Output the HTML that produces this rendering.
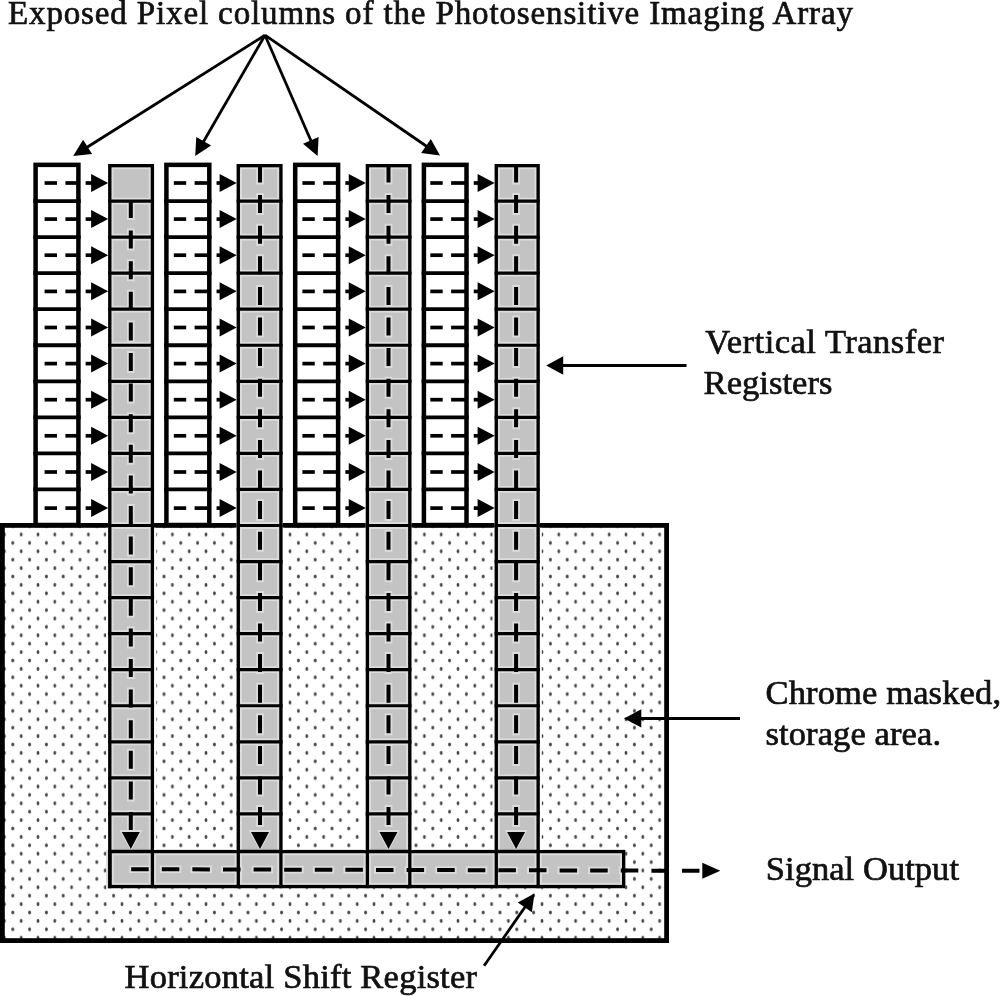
<!DOCTYPE html>
<html><head><meta charset="utf-8"><style>
html,body{margin:0;padding:0;background:#fff;width:1000px;height:996px;overflow:hidden}
svg{display:block;will-change:transform}
text{font-family:"Liberation Serif",serif;fill:#111;stroke:#111;stroke-width:0.7px}
</style></head><body><div id="wrap">
<svg width="1000" height="996" viewBox="0 0 1000 996">
<defs><pattern id="dots" patternUnits="userSpaceOnUse" x="21.2" y="534.5" width="16.8" height="16.8"><ellipse cx="0" cy="0" rx="1.4" ry="1.9" fill="#444"/><ellipse cx="16.8" cy="0" rx="1.4" ry="1.9" fill="#444"/><ellipse cx="0" cy="16.8" rx="1.4" ry="1.9" fill="#444"/><ellipse cx="16.8" cy="16.8" rx="1.4" ry="1.9" fill="#444"/><ellipse cx="8.4" cy="8.4" rx="1.4" ry="1.9" fill="#444"/></pattern></defs>
<rect x="2.4" y="525.4" width="664.2" height="415.2" fill="url(#dots)" stroke="#000" stroke-width="4.8"/>
<rect x="108.3" y="849.9" width="517.0" height="38.30" fill="#c3c3c3"/>
<rect x="112.6" y="854.19" width="508.4" height="29.70" fill="none" stroke="#dcdcdc" stroke-width="2"/>
<line x1="109.80" y1="849.9" x2="109.80" y2="888.2" stroke="#dcdcdc" stroke-width="7.3"/>
<line x1="152.4" y1="849.9" x2="152.4" y2="888.2" stroke="#dcdcdc" stroke-width="7.3"/>
<line x1="238.3" y1="849.9" x2="238.3" y2="888.2" stroke="#dcdcdc" stroke-width="7.3"/>
<line x1="280.90" y1="849.9" x2="280.90" y2="888.2" stroke="#dcdcdc" stroke-width="7.3"/>
<line x1="367.4" y1="849.9" x2="367.4" y2="888.2" stroke="#dcdcdc" stroke-width="7.3"/>
<line x1="409.8" y1="849.9" x2="409.8" y2="888.2" stroke="#dcdcdc" stroke-width="7.3"/>
<line x1="496.29" y1="849.9" x2="496.29" y2="888.2" stroke="#dcdcdc" stroke-width="7.3"/>
<line x1="538.15" y1="849.9" x2="538.15" y2="888.2" stroke="#dcdcdc" stroke-width="7.3"/>
<line x1="129.2" y1="869.2" x2="622" y2="870.5" stroke="#dcdcdc" stroke-width="7.6" stroke-dasharray="21.5 9.1"/>
<rect x="109.95" y="851.55" width="513.7" height="35.00" fill="none" stroke="#000" stroke-width="3.3"/>
<rect x="35.6" y="164.85" width="42.80" height="360.15" fill="#fff" stroke="#000" stroke-width="4.5"/>
<line x1="33.35" y1="201.05" x2="80.65" y2="201.05" stroke="#000" stroke-width="3.8"/>
<line x1="33.35" y1="237.10" x2="80.65" y2="237.10" stroke="#000" stroke-width="3.8"/>
<line x1="33.35" y1="273.15" x2="80.65" y2="273.15" stroke="#000" stroke-width="3.8"/>
<line x1="33.35" y1="309.20" x2="80.65" y2="309.20" stroke="#000" stroke-width="3.8"/>
<line x1="33.35" y1="345.25" x2="80.65" y2="345.25" stroke="#000" stroke-width="3.8"/>
<line x1="33.35" y1="381.30" x2="80.65" y2="381.30" stroke="#000" stroke-width="3.8"/>
<line x1="33.35" y1="417.35" x2="80.65" y2="417.35" stroke="#000" stroke-width="3.8"/>
<line x1="33.35" y1="453.40" x2="80.65" y2="453.40" stroke="#000" stroke-width="3.8"/>
<line x1="33.35" y1="489.45" x2="80.65" y2="489.45" stroke="#000" stroke-width="3.8"/>
<rect x="106.15" y="527.8" width="49.90" height="322.09" fill="#fff"/>
<rect x="108.15" y="164.0" width="45.90" height="687.4" fill="#c3c3c3"/>
<rect x="112.45" y="168.3" width="37.30" height="683.1" fill="none" stroke="#dcdcdc" stroke-width="2"/>
<line x1="108.15" y1="201.05" x2="154.05" y2="201.05" stroke="#dcdcdc" stroke-width="6.8"/>
<line x1="108.15" y1="237.10" x2="154.05" y2="237.10" stroke="#dcdcdc" stroke-width="6.8"/>
<line x1="108.15" y1="273.15" x2="154.05" y2="273.15" stroke="#dcdcdc" stroke-width="6.8"/>
<line x1="108.15" y1="309.20" x2="154.05" y2="309.20" stroke="#dcdcdc" stroke-width="6.8"/>
<line x1="108.15" y1="345.25" x2="154.05" y2="345.25" stroke="#dcdcdc" stroke-width="6.8"/>
<line x1="108.15" y1="381.30" x2="154.05" y2="381.30" stroke="#dcdcdc" stroke-width="6.8"/>
<line x1="108.15" y1="417.35" x2="154.05" y2="417.35" stroke="#dcdcdc" stroke-width="6.8"/>
<line x1="108.15" y1="453.40" x2="154.05" y2="453.40" stroke="#dcdcdc" stroke-width="6.8"/>
<line x1="108.15" y1="489.45" x2="154.05" y2="489.45" stroke="#dcdcdc" stroke-width="6.8"/>
<line x1="108.15" y1="525.50" x2="154.05" y2="525.50" stroke="#dcdcdc" stroke-width="6.8"/>
<line x1="108.15" y1="561.55" x2="154.05" y2="561.55" stroke="#dcdcdc" stroke-width="6.8"/>
<line x1="108.15" y1="597.60" x2="154.05" y2="597.60" stroke="#dcdcdc" stroke-width="6.8"/>
<line x1="108.15" y1="633.65" x2="154.05" y2="633.65" stroke="#dcdcdc" stroke-width="6.8"/>
<line x1="108.15" y1="669.70" x2="154.05" y2="669.70" stroke="#dcdcdc" stroke-width="6.8"/>
<line x1="108.15" y1="705.75" x2="154.05" y2="705.75" stroke="#dcdcdc" stroke-width="6.8"/>
<line x1="108.15" y1="741.80" x2="154.05" y2="741.80" stroke="#dcdcdc" stroke-width="6.8"/>
<line x1="108.15" y1="777.85" x2="154.05" y2="777.85" stroke="#dcdcdc" stroke-width="6.8"/>
<line x1="108.15" y1="813.90" x2="154.05" y2="813.90" stroke="#dcdcdc" stroke-width="6.8"/>
<line x1="130.8" y1="198.0" x2="130.8" y2="836" stroke="#dcdcdc" stroke-width="7.6" stroke-dasharray="22 8.6" stroke-dashoffset="0.00"/>
<polygon points="119.3,830 142.3,830 130.8,851" fill="#dcdcdc"/>
<rect x="109.80" y="165.65" width="42.60" height="685.75" fill="none" stroke="#000" stroke-width="3.3"/>
<line x1="108.15" y1="201.05" x2="154.05" y2="201.05" stroke="#000" stroke-width="3.2"/>
<line x1="108.15" y1="237.10" x2="154.05" y2="237.10" stroke="#000" stroke-width="3.2"/>
<line x1="108.15" y1="273.15" x2="154.05" y2="273.15" stroke="#000" stroke-width="3.2"/>
<line x1="108.15" y1="309.20" x2="154.05" y2="309.20" stroke="#000" stroke-width="3.2"/>
<line x1="108.15" y1="345.25" x2="154.05" y2="345.25" stroke="#000" stroke-width="3.2"/>
<line x1="108.15" y1="381.30" x2="154.05" y2="381.30" stroke="#000" stroke-width="3.2"/>
<line x1="108.15" y1="417.35" x2="154.05" y2="417.35" stroke="#000" stroke-width="3.2"/>
<line x1="108.15" y1="453.40" x2="154.05" y2="453.40" stroke="#000" stroke-width="3.2"/>
<line x1="108.15" y1="489.45" x2="154.05" y2="489.45" stroke="#000" stroke-width="3.2"/>
<line x1="108.15" y1="525.50" x2="154.05" y2="525.50" stroke="#000" stroke-width="3.2"/>
<line x1="108.15" y1="561.55" x2="154.05" y2="561.55" stroke="#000" stroke-width="3.2"/>
<line x1="108.15" y1="597.60" x2="154.05" y2="597.60" stroke="#000" stroke-width="3.2"/>
<line x1="108.15" y1="633.65" x2="154.05" y2="633.65" stroke="#000" stroke-width="3.2"/>
<line x1="108.15" y1="669.70" x2="154.05" y2="669.70" stroke="#000" stroke-width="3.2"/>
<line x1="108.15" y1="705.75" x2="154.05" y2="705.75" stroke="#000" stroke-width="3.2"/>
<line x1="108.15" y1="741.80" x2="154.05" y2="741.80" stroke="#000" stroke-width="3.2"/>
<line x1="108.15" y1="777.85" x2="154.05" y2="777.85" stroke="#000" stroke-width="3.2"/>
<line x1="108.15" y1="813.90" x2="154.05" y2="813.90" stroke="#000" stroke-width="3.2"/>
<line x1="109.80" y1="849.9" x2="109.80" y2="888.2" stroke="#000" stroke-width="3.3"/>
<line x1="152.4" y1="849.9" x2="152.4" y2="888.2" stroke="#000" stroke-width="3.3"/>
<line x1="44.6" y1="183.0" x2="57.0" y2="183.0" stroke="#000" stroke-width="3.7"/>
<line x1="65.4" y1="183.0" x2="78.65" y2="183.0" stroke="#000" stroke-width="3.7"/>
<line x1="85.65" y1="183.0" x2="100.15" y2="183.0" stroke="#000" stroke-width="3.7"/>
<polygon points="91.15,174.0 108.15,183.0 91.15,192.0" fill="#000"/>
<line x1="44.6" y1="219.1" x2="57.0" y2="219.1" stroke="#000" stroke-width="3.7"/>
<line x1="65.4" y1="219.1" x2="78.65" y2="219.1" stroke="#000" stroke-width="3.7"/>
<line x1="85.65" y1="219.1" x2="100.15" y2="219.1" stroke="#000" stroke-width="3.7"/>
<polygon points="91.15,210.12 108.15,219.12 91.15,228.12" fill="#000"/>
<line x1="44.6" y1="255.2" x2="57.0" y2="255.2" stroke="#000" stroke-width="3.7"/>
<line x1="65.4" y1="255.2" x2="78.65" y2="255.2" stroke="#000" stroke-width="3.7"/>
<line x1="85.65" y1="255.2" x2="100.15" y2="255.2" stroke="#000" stroke-width="3.7"/>
<polygon points="91.15,246.24 108.15,255.24 91.15,264.24" fill="#000"/>
<line x1="44.6" y1="291.4" x2="57.0" y2="291.4" stroke="#000" stroke-width="3.7"/>
<line x1="65.4" y1="291.4" x2="78.65" y2="291.4" stroke="#000" stroke-width="3.7"/>
<line x1="85.65" y1="291.4" x2="100.15" y2="291.4" stroke="#000" stroke-width="3.7"/>
<polygon points="91.15,282.36 108.15,291.36 91.15,300.36" fill="#000"/>
<line x1="44.6" y1="327.5" x2="57.0" y2="327.5" stroke="#000" stroke-width="3.7"/>
<line x1="65.4" y1="327.5" x2="78.65" y2="327.5" stroke="#000" stroke-width="3.7"/>
<line x1="85.65" y1="327.5" x2="100.15" y2="327.5" stroke="#000" stroke-width="3.7"/>
<polygon points="91.15,318.48 108.15,327.48 91.15,336.48" fill="#000"/>
<line x1="44.6" y1="363.6" x2="57.0" y2="363.6" stroke="#000" stroke-width="3.7"/>
<line x1="65.4" y1="363.6" x2="78.65" y2="363.6" stroke="#000" stroke-width="3.7"/>
<line x1="85.65" y1="363.6" x2="100.15" y2="363.6" stroke="#000" stroke-width="3.7"/>
<polygon points="91.15,354.6 108.15,363.6 91.15,372.6" fill="#000"/>
<line x1="44.6" y1="399.7" x2="57.0" y2="399.7" stroke="#000" stroke-width="3.7"/>
<line x1="65.4" y1="399.7" x2="78.65" y2="399.7" stroke="#000" stroke-width="3.7"/>
<line x1="85.65" y1="399.7" x2="100.15" y2="399.7" stroke="#000" stroke-width="3.7"/>
<polygon points="91.15,390.71 108.15,399.71 91.15,408.71" fill="#000"/>
<line x1="44.6" y1="435.8" x2="57.0" y2="435.8" stroke="#000" stroke-width="3.7"/>
<line x1="65.4" y1="435.8" x2="78.65" y2="435.8" stroke="#000" stroke-width="3.7"/>
<line x1="85.65" y1="435.8" x2="100.15" y2="435.8" stroke="#000" stroke-width="3.7"/>
<polygon points="91.15,426.84 108.15,435.84 91.15,444.84" fill="#000"/>
<line x1="44.6" y1="472.0" x2="57.0" y2="472.0" stroke="#000" stroke-width="3.7"/>
<line x1="65.4" y1="472.0" x2="78.65" y2="472.0" stroke="#000" stroke-width="3.7"/>
<line x1="85.65" y1="472.0" x2="100.15" y2="472.0" stroke="#000" stroke-width="3.7"/>
<polygon points="91.15,462.96 108.15,471.96 91.15,480.96" fill="#000"/>
<line x1="44.6" y1="508.1" x2="57.0" y2="508.1" stroke="#000" stroke-width="3.7"/>
<line x1="65.4" y1="508.1" x2="78.65" y2="508.1" stroke="#000" stroke-width="3.7"/>
<line x1="85.65" y1="508.1" x2="100.15" y2="508.1" stroke="#000" stroke-width="3.7"/>
<polygon points="91.15,499.08 108.15,508.08 91.15,517.07" fill="#000"/>
<line x1="130.8" y1="200.0" x2="130.8" y2="834" stroke="#000" stroke-width="4" stroke-dasharray="18 12.6"/>
<polygon points="121.8,832 139.8,832 130.8,849" fill="#000"/>
<rect x="166.4" y="164.85" width="42.90" height="360.15" fill="#fff" stroke="#000" stroke-width="4.5"/>
<line x1="164.15" y1="201.05" x2="211.55" y2="201.05" stroke="#000" stroke-width="3.8"/>
<line x1="164.15" y1="237.10" x2="211.55" y2="237.10" stroke="#000" stroke-width="3.8"/>
<line x1="164.15" y1="273.15" x2="211.55" y2="273.15" stroke="#000" stroke-width="3.8"/>
<line x1="164.15" y1="309.20" x2="211.55" y2="309.20" stroke="#000" stroke-width="3.8"/>
<line x1="164.15" y1="345.25" x2="211.55" y2="345.25" stroke="#000" stroke-width="3.8"/>
<line x1="164.15" y1="381.30" x2="211.55" y2="381.30" stroke="#000" stroke-width="3.8"/>
<line x1="164.15" y1="417.35" x2="211.55" y2="417.35" stroke="#000" stroke-width="3.8"/>
<line x1="164.15" y1="453.40" x2="211.55" y2="453.40" stroke="#000" stroke-width="3.8"/>
<line x1="164.15" y1="489.45" x2="211.55" y2="489.45" stroke="#000" stroke-width="3.8"/>
<rect x="234.65" y="527.8" width="49.90" height="322.09" fill="#fff"/>
<rect x="236.65" y="164.0" width="45.90" height="687.4" fill="#c3c3c3"/>
<rect x="240.95" y="168.3" width="37.30" height="683.1" fill="none" stroke="#dcdcdc" stroke-width="2"/>
<line x1="236.65" y1="201.05" x2="282.55" y2="201.05" stroke="#dcdcdc" stroke-width="6.8"/>
<line x1="236.65" y1="237.10" x2="282.55" y2="237.10" stroke="#dcdcdc" stroke-width="6.8"/>
<line x1="236.65" y1="273.15" x2="282.55" y2="273.15" stroke="#dcdcdc" stroke-width="6.8"/>
<line x1="236.65" y1="309.20" x2="282.55" y2="309.20" stroke="#dcdcdc" stroke-width="6.8"/>
<line x1="236.65" y1="345.25" x2="282.55" y2="345.25" stroke="#dcdcdc" stroke-width="6.8"/>
<line x1="236.65" y1="381.30" x2="282.55" y2="381.30" stroke="#dcdcdc" stroke-width="6.8"/>
<line x1="236.65" y1="417.35" x2="282.55" y2="417.35" stroke="#dcdcdc" stroke-width="6.8"/>
<line x1="236.65" y1="453.40" x2="282.55" y2="453.40" stroke="#dcdcdc" stroke-width="6.8"/>
<line x1="236.65" y1="489.45" x2="282.55" y2="489.45" stroke="#dcdcdc" stroke-width="6.8"/>
<line x1="236.65" y1="525.50" x2="282.55" y2="525.50" stroke="#dcdcdc" stroke-width="6.8"/>
<line x1="236.65" y1="561.55" x2="282.55" y2="561.55" stroke="#dcdcdc" stroke-width="6.8"/>
<line x1="236.65" y1="597.60" x2="282.55" y2="597.60" stroke="#dcdcdc" stroke-width="6.8"/>
<line x1="236.65" y1="633.65" x2="282.55" y2="633.65" stroke="#dcdcdc" stroke-width="6.8"/>
<line x1="236.65" y1="669.70" x2="282.55" y2="669.70" stroke="#dcdcdc" stroke-width="6.8"/>
<line x1="236.65" y1="705.75" x2="282.55" y2="705.75" stroke="#dcdcdc" stroke-width="6.8"/>
<line x1="236.65" y1="741.80" x2="282.55" y2="741.80" stroke="#dcdcdc" stroke-width="6.8"/>
<line x1="236.65" y1="777.85" x2="282.55" y2="777.85" stroke="#dcdcdc" stroke-width="6.8"/>
<line x1="236.65" y1="813.90" x2="282.55" y2="813.90" stroke="#dcdcdc" stroke-width="6.8"/>
<line x1="260.0" y1="167.3" x2="260.0" y2="836" stroke="#dcdcdc" stroke-width="7.6" stroke-dasharray="22 8.6" stroke-dashoffset="4.80"/>
<polygon points="248.5,830 271.5,830 260.0,851" fill="#dcdcdc"/>
<rect x="238.3" y="165.65" width="42.60" height="685.75" fill="none" stroke="#000" stroke-width="3.3"/>
<line x1="236.65" y1="201.05" x2="282.55" y2="201.05" stroke="#000" stroke-width="3.2"/>
<line x1="236.65" y1="237.10" x2="282.55" y2="237.10" stroke="#000" stroke-width="3.2"/>
<line x1="236.65" y1="273.15" x2="282.55" y2="273.15" stroke="#000" stroke-width="3.2"/>
<line x1="236.65" y1="309.20" x2="282.55" y2="309.20" stroke="#000" stroke-width="3.2"/>
<line x1="236.65" y1="345.25" x2="282.55" y2="345.25" stroke="#000" stroke-width="3.2"/>
<line x1="236.65" y1="381.30" x2="282.55" y2="381.30" stroke="#000" stroke-width="3.2"/>
<line x1="236.65" y1="417.35" x2="282.55" y2="417.35" stroke="#000" stroke-width="3.2"/>
<line x1="236.65" y1="453.40" x2="282.55" y2="453.40" stroke="#000" stroke-width="3.2"/>
<line x1="236.65" y1="489.45" x2="282.55" y2="489.45" stroke="#000" stroke-width="3.2"/>
<line x1="236.65" y1="525.50" x2="282.55" y2="525.50" stroke="#000" stroke-width="3.2"/>
<line x1="236.65" y1="561.55" x2="282.55" y2="561.55" stroke="#000" stroke-width="3.2"/>
<line x1="236.65" y1="597.60" x2="282.55" y2="597.60" stroke="#000" stroke-width="3.2"/>
<line x1="236.65" y1="633.65" x2="282.55" y2="633.65" stroke="#000" stroke-width="3.2"/>
<line x1="236.65" y1="669.70" x2="282.55" y2="669.70" stroke="#000" stroke-width="3.2"/>
<line x1="236.65" y1="705.75" x2="282.55" y2="705.75" stroke="#000" stroke-width="3.2"/>
<line x1="236.65" y1="741.80" x2="282.55" y2="741.80" stroke="#000" stroke-width="3.2"/>
<line x1="236.65" y1="777.85" x2="282.55" y2="777.85" stroke="#000" stroke-width="3.2"/>
<line x1="236.65" y1="813.90" x2="282.55" y2="813.90" stroke="#000" stroke-width="3.2"/>
<line x1="238.3" y1="849.9" x2="238.3" y2="888.2" stroke="#000" stroke-width="3.3"/>
<line x1="280.90" y1="849.9" x2="280.90" y2="888.2" stroke="#000" stroke-width="3.3"/>
<line x1="173.8" y1="183.0" x2="186.20" y2="183.0" stroke="#000" stroke-width="3.7"/>
<line x1="194.60" y1="183.0" x2="209.55" y2="183.0" stroke="#000" stroke-width="3.7"/>
<line x1="216.55" y1="183.0" x2="228.65" y2="183.0" stroke="#000" stroke-width="3.7"/>
<polygon points="219.65,174.0 236.65,183.0 219.65,192.0" fill="#000"/>
<line x1="173.8" y1="219.1" x2="186.20" y2="219.1" stroke="#000" stroke-width="3.7"/>
<line x1="194.60" y1="219.1" x2="209.55" y2="219.1" stroke="#000" stroke-width="3.7"/>
<line x1="216.55" y1="219.1" x2="228.65" y2="219.1" stroke="#000" stroke-width="3.7"/>
<polygon points="219.65,210.12 236.65,219.12 219.65,228.12" fill="#000"/>
<line x1="173.8" y1="255.2" x2="186.20" y2="255.2" stroke="#000" stroke-width="3.7"/>
<line x1="194.60" y1="255.2" x2="209.55" y2="255.2" stroke="#000" stroke-width="3.7"/>
<line x1="216.55" y1="255.2" x2="228.65" y2="255.2" stroke="#000" stroke-width="3.7"/>
<polygon points="219.65,246.24 236.65,255.24 219.65,264.24" fill="#000"/>
<line x1="173.8" y1="291.4" x2="186.20" y2="291.4" stroke="#000" stroke-width="3.7"/>
<line x1="194.60" y1="291.4" x2="209.55" y2="291.4" stroke="#000" stroke-width="3.7"/>
<line x1="216.55" y1="291.4" x2="228.65" y2="291.4" stroke="#000" stroke-width="3.7"/>
<polygon points="219.65,282.36 236.65,291.36 219.65,300.36" fill="#000"/>
<line x1="173.8" y1="327.5" x2="186.20" y2="327.5" stroke="#000" stroke-width="3.7"/>
<line x1="194.60" y1="327.5" x2="209.55" y2="327.5" stroke="#000" stroke-width="3.7"/>
<line x1="216.55" y1="327.5" x2="228.65" y2="327.5" stroke="#000" stroke-width="3.7"/>
<polygon points="219.65,318.48 236.65,327.48 219.65,336.48" fill="#000"/>
<line x1="173.8" y1="363.6" x2="186.20" y2="363.6" stroke="#000" stroke-width="3.7"/>
<line x1="194.60" y1="363.6" x2="209.55" y2="363.6" stroke="#000" stroke-width="3.7"/>
<line x1="216.55" y1="363.6" x2="228.65" y2="363.6" stroke="#000" stroke-width="3.7"/>
<polygon points="219.65,354.6 236.65,363.6 219.65,372.6" fill="#000"/>
<line x1="173.8" y1="399.7" x2="186.20" y2="399.7" stroke="#000" stroke-width="3.7"/>
<line x1="194.60" y1="399.7" x2="209.55" y2="399.7" stroke="#000" stroke-width="3.7"/>
<line x1="216.55" y1="399.7" x2="228.65" y2="399.7" stroke="#000" stroke-width="3.7"/>
<polygon points="219.65,390.71 236.65,399.71 219.65,408.71" fill="#000"/>
<line x1="173.8" y1="435.8" x2="186.20" y2="435.8" stroke="#000" stroke-width="3.7"/>
<line x1="194.60" y1="435.8" x2="209.55" y2="435.8" stroke="#000" stroke-width="3.7"/>
<line x1="216.55" y1="435.8" x2="228.65" y2="435.8" stroke="#000" stroke-width="3.7"/>
<polygon points="219.65,426.84 236.65,435.84 219.65,444.84" fill="#000"/>
<line x1="173.8" y1="472.0" x2="186.20" y2="472.0" stroke="#000" stroke-width="3.7"/>
<line x1="194.60" y1="472.0" x2="209.55" y2="472.0" stroke="#000" stroke-width="3.7"/>
<line x1="216.55" y1="472.0" x2="228.65" y2="472.0" stroke="#000" stroke-width="3.7"/>
<polygon points="219.65,462.96 236.65,471.96 219.65,480.96" fill="#000"/>
<line x1="173.8" y1="508.1" x2="186.20" y2="508.1" stroke="#000" stroke-width="3.7"/>
<line x1="194.60" y1="508.1" x2="209.55" y2="508.1" stroke="#000" stroke-width="3.7"/>
<line x1="216.55" y1="508.1" x2="228.65" y2="508.1" stroke="#000" stroke-width="3.7"/>
<polygon points="219.65,499.08 236.65,508.08 219.65,517.07" fill="#000"/>
<line x1="260.0" y1="164.5" x2="260.0" y2="834" stroke="#000" stroke-width="4" stroke-dasharray="18 12.6"/>
<polygon points="251.0,832 269.0,832 260.0,849" fill="#000"/>
<rect x="295.2" y="164.85" width="42.90" height="360.15" fill="#fff" stroke="#000" stroke-width="4.5"/>
<line x1="292.95" y1="201.05" x2="340.35" y2="201.05" stroke="#000" stroke-width="3.8"/>
<line x1="292.95" y1="237.10" x2="340.35" y2="237.10" stroke="#000" stroke-width="3.8"/>
<line x1="292.95" y1="273.15" x2="340.35" y2="273.15" stroke="#000" stroke-width="3.8"/>
<line x1="292.95" y1="309.20" x2="340.35" y2="309.20" stroke="#000" stroke-width="3.8"/>
<line x1="292.95" y1="345.25" x2="340.35" y2="345.25" stroke="#000" stroke-width="3.8"/>
<line x1="292.95" y1="381.30" x2="340.35" y2="381.30" stroke="#000" stroke-width="3.8"/>
<line x1="292.95" y1="417.35" x2="340.35" y2="417.35" stroke="#000" stroke-width="3.8"/>
<line x1="292.95" y1="453.40" x2="340.35" y2="453.40" stroke="#000" stroke-width="3.8"/>
<line x1="292.95" y1="489.45" x2="340.35" y2="489.45" stroke="#000" stroke-width="3.8"/>
<rect x="363.75" y="527.8" width="49.69" height="322.09" fill="#fff"/>
<rect x="365.75" y="164.0" width="45.69" height="687.4" fill="#c3c3c3"/>
<rect x="370.05" y="168.3" width="37.09" height="683.1" fill="none" stroke="#dcdcdc" stroke-width="2"/>
<line x1="365.75" y1="201.05" x2="411.45" y2="201.05" stroke="#dcdcdc" stroke-width="6.8"/>
<line x1="365.75" y1="237.10" x2="411.45" y2="237.10" stroke="#dcdcdc" stroke-width="6.8"/>
<line x1="365.75" y1="273.15" x2="411.45" y2="273.15" stroke="#dcdcdc" stroke-width="6.8"/>
<line x1="365.75" y1="309.20" x2="411.45" y2="309.20" stroke="#dcdcdc" stroke-width="6.8"/>
<line x1="365.75" y1="345.25" x2="411.45" y2="345.25" stroke="#dcdcdc" stroke-width="6.8"/>
<line x1="365.75" y1="381.30" x2="411.45" y2="381.30" stroke="#dcdcdc" stroke-width="6.8"/>
<line x1="365.75" y1="417.35" x2="411.45" y2="417.35" stroke="#dcdcdc" stroke-width="6.8"/>
<line x1="365.75" y1="453.40" x2="411.45" y2="453.40" stroke="#dcdcdc" stroke-width="6.8"/>
<line x1="365.75" y1="489.45" x2="411.45" y2="489.45" stroke="#dcdcdc" stroke-width="6.8"/>
<line x1="365.75" y1="525.50" x2="411.45" y2="525.50" stroke="#dcdcdc" stroke-width="6.8"/>
<line x1="365.75" y1="561.55" x2="411.45" y2="561.55" stroke="#dcdcdc" stroke-width="6.8"/>
<line x1="365.75" y1="597.60" x2="411.45" y2="597.60" stroke="#dcdcdc" stroke-width="6.8"/>
<line x1="365.75" y1="633.65" x2="411.45" y2="633.65" stroke="#dcdcdc" stroke-width="6.8"/>
<line x1="365.75" y1="669.70" x2="411.45" y2="669.70" stroke="#dcdcdc" stroke-width="6.8"/>
<line x1="365.75" y1="705.75" x2="411.45" y2="705.75" stroke="#dcdcdc" stroke-width="6.8"/>
<line x1="365.75" y1="741.80" x2="411.45" y2="741.80" stroke="#dcdcdc" stroke-width="6.8"/>
<line x1="365.75" y1="777.85" x2="411.45" y2="777.85" stroke="#dcdcdc" stroke-width="6.8"/>
<line x1="365.75" y1="813.90" x2="411.45" y2="813.90" stroke="#dcdcdc" stroke-width="6.8"/>
<line x1="388.5" y1="167.3" x2="388.5" y2="836" stroke="#dcdcdc" stroke-width="7.6" stroke-dasharray="22 8.6" stroke-dashoffset="4.80"/>
<polygon points="377.0,830 400.0,830 388.5,851" fill="#dcdcdc"/>
<rect x="367.4" y="165.65" width="42.39" height="685.75" fill="none" stroke="#000" stroke-width="3.3"/>
<line x1="365.75" y1="201.05" x2="411.45" y2="201.05" stroke="#000" stroke-width="3.2"/>
<line x1="365.75" y1="237.10" x2="411.45" y2="237.10" stroke="#000" stroke-width="3.2"/>
<line x1="365.75" y1="273.15" x2="411.45" y2="273.15" stroke="#000" stroke-width="3.2"/>
<line x1="365.75" y1="309.20" x2="411.45" y2="309.20" stroke="#000" stroke-width="3.2"/>
<line x1="365.75" y1="345.25" x2="411.45" y2="345.25" stroke="#000" stroke-width="3.2"/>
<line x1="365.75" y1="381.30" x2="411.45" y2="381.30" stroke="#000" stroke-width="3.2"/>
<line x1="365.75" y1="417.35" x2="411.45" y2="417.35" stroke="#000" stroke-width="3.2"/>
<line x1="365.75" y1="453.40" x2="411.45" y2="453.40" stroke="#000" stroke-width="3.2"/>
<line x1="365.75" y1="489.45" x2="411.45" y2="489.45" stroke="#000" stroke-width="3.2"/>
<line x1="365.75" y1="525.50" x2="411.45" y2="525.50" stroke="#000" stroke-width="3.2"/>
<line x1="365.75" y1="561.55" x2="411.45" y2="561.55" stroke="#000" stroke-width="3.2"/>
<line x1="365.75" y1="597.60" x2="411.45" y2="597.60" stroke="#000" stroke-width="3.2"/>
<line x1="365.75" y1="633.65" x2="411.45" y2="633.65" stroke="#000" stroke-width="3.2"/>
<line x1="365.75" y1="669.70" x2="411.45" y2="669.70" stroke="#000" stroke-width="3.2"/>
<line x1="365.75" y1="705.75" x2="411.45" y2="705.75" stroke="#000" stroke-width="3.2"/>
<line x1="365.75" y1="741.80" x2="411.45" y2="741.80" stroke="#000" stroke-width="3.2"/>
<line x1="365.75" y1="777.85" x2="411.45" y2="777.85" stroke="#000" stroke-width="3.2"/>
<line x1="365.75" y1="813.90" x2="411.45" y2="813.90" stroke="#000" stroke-width="3.2"/>
<line x1="367.4" y1="849.9" x2="367.4" y2="888.2" stroke="#000" stroke-width="3.3"/>
<line x1="409.8" y1="849.9" x2="409.8" y2="888.2" stroke="#000" stroke-width="3.3"/>
<line x1="302.4" y1="183.0" x2="314.79" y2="183.0" stroke="#000" stroke-width="3.7"/>
<line x1="323.2" y1="183.0" x2="338.35" y2="183.0" stroke="#000" stroke-width="3.7"/>
<line x1="345.35" y1="183.0" x2="357.75" y2="183.0" stroke="#000" stroke-width="3.7"/>
<polygon points="348.75,174.0 365.75,183.0 348.75,192.0" fill="#000"/>
<line x1="302.4" y1="219.1" x2="314.79" y2="219.1" stroke="#000" stroke-width="3.7"/>
<line x1="323.2" y1="219.1" x2="338.35" y2="219.1" stroke="#000" stroke-width="3.7"/>
<line x1="345.35" y1="219.1" x2="357.75" y2="219.1" stroke="#000" stroke-width="3.7"/>
<polygon points="348.75,210.12 365.75,219.12 348.75,228.12" fill="#000"/>
<line x1="302.4" y1="255.2" x2="314.79" y2="255.2" stroke="#000" stroke-width="3.7"/>
<line x1="323.2" y1="255.2" x2="338.35" y2="255.2" stroke="#000" stroke-width="3.7"/>
<line x1="345.35" y1="255.2" x2="357.75" y2="255.2" stroke="#000" stroke-width="3.7"/>
<polygon points="348.75,246.24 365.75,255.24 348.75,264.24" fill="#000"/>
<line x1="302.4" y1="291.4" x2="314.79" y2="291.4" stroke="#000" stroke-width="3.7"/>
<line x1="323.2" y1="291.4" x2="338.35" y2="291.4" stroke="#000" stroke-width="3.7"/>
<line x1="345.35" y1="291.4" x2="357.75" y2="291.4" stroke="#000" stroke-width="3.7"/>
<polygon points="348.75,282.36 365.75,291.36 348.75,300.36" fill="#000"/>
<line x1="302.4" y1="327.5" x2="314.79" y2="327.5" stroke="#000" stroke-width="3.7"/>
<line x1="323.2" y1="327.5" x2="338.35" y2="327.5" stroke="#000" stroke-width="3.7"/>
<line x1="345.35" y1="327.5" x2="357.75" y2="327.5" stroke="#000" stroke-width="3.7"/>
<polygon points="348.75,318.48 365.75,327.48 348.75,336.48" fill="#000"/>
<line x1="302.4" y1="363.6" x2="314.79" y2="363.6" stroke="#000" stroke-width="3.7"/>
<line x1="323.2" y1="363.6" x2="338.35" y2="363.6" stroke="#000" stroke-width="3.7"/>
<line x1="345.35" y1="363.6" x2="357.75" y2="363.6" stroke="#000" stroke-width="3.7"/>
<polygon points="348.75,354.6 365.75,363.6 348.75,372.6" fill="#000"/>
<line x1="302.4" y1="399.7" x2="314.79" y2="399.7" stroke="#000" stroke-width="3.7"/>
<line x1="323.2" y1="399.7" x2="338.35" y2="399.7" stroke="#000" stroke-width="3.7"/>
<line x1="345.35" y1="399.7" x2="357.75" y2="399.7" stroke="#000" stroke-width="3.7"/>
<polygon points="348.75,390.71 365.75,399.71 348.75,408.71" fill="#000"/>
<line x1="302.4" y1="435.8" x2="314.79" y2="435.8" stroke="#000" stroke-width="3.7"/>
<line x1="323.2" y1="435.8" x2="338.35" y2="435.8" stroke="#000" stroke-width="3.7"/>
<line x1="345.35" y1="435.8" x2="357.75" y2="435.8" stroke="#000" stroke-width="3.7"/>
<polygon points="348.75,426.84 365.75,435.84 348.75,444.84" fill="#000"/>
<line x1="302.4" y1="472.0" x2="314.79" y2="472.0" stroke="#000" stroke-width="3.7"/>
<line x1="323.2" y1="472.0" x2="338.35" y2="472.0" stroke="#000" stroke-width="3.7"/>
<line x1="345.35" y1="472.0" x2="357.75" y2="472.0" stroke="#000" stroke-width="3.7"/>
<polygon points="348.75,462.96 365.75,471.96 348.75,480.96" fill="#000"/>
<line x1="302.4" y1="508.1" x2="314.79" y2="508.1" stroke="#000" stroke-width="3.7"/>
<line x1="323.2" y1="508.1" x2="338.35" y2="508.1" stroke="#000" stroke-width="3.7"/>
<line x1="345.35" y1="508.1" x2="357.75" y2="508.1" stroke="#000" stroke-width="3.7"/>
<polygon points="348.75,499.08 365.75,508.08 348.75,517.07" fill="#000"/>
<line x1="388.5" y1="164.5" x2="388.5" y2="834" stroke="#000" stroke-width="4" stroke-dasharray="18 12.6"/>
<polygon points="379.5,832 397.5,832 388.5,849" fill="#000"/>
<rect x="423.9" y="164.85" width="42.60" height="360.15" fill="#fff" stroke="#000" stroke-width="4.5"/>
<line x1="421.65" y1="201.05" x2="468.75" y2="201.05" stroke="#000" stroke-width="3.8"/>
<line x1="421.65" y1="237.10" x2="468.75" y2="237.10" stroke="#000" stroke-width="3.8"/>
<line x1="421.65" y1="273.15" x2="468.75" y2="273.15" stroke="#000" stroke-width="3.8"/>
<line x1="421.65" y1="309.20" x2="468.75" y2="309.20" stroke="#000" stroke-width="3.8"/>
<line x1="421.65" y1="345.25" x2="468.75" y2="345.25" stroke="#000" stroke-width="3.8"/>
<line x1="421.65" y1="381.30" x2="468.75" y2="381.30" stroke="#000" stroke-width="3.8"/>
<line x1="421.65" y1="417.35" x2="468.75" y2="417.35" stroke="#000" stroke-width="3.8"/>
<line x1="421.65" y1="453.40" x2="468.75" y2="453.40" stroke="#000" stroke-width="3.8"/>
<line x1="421.65" y1="489.45" x2="468.75" y2="489.45" stroke="#000" stroke-width="3.8"/>
<rect x="492.65" y="527.8" width="49.14" height="322.09" fill="#fff"/>
<rect x="494.65" y="164.0" width="45.14" height="687.4" fill="#c3c3c3"/>
<rect x="498.95" y="168.3" width="36.54" height="683.1" fill="none" stroke="#dcdcdc" stroke-width="2"/>
<line x1="494.65" y1="201.05" x2="539.8" y2="201.05" stroke="#dcdcdc" stroke-width="6.8"/>
<line x1="494.65" y1="237.10" x2="539.8" y2="237.10" stroke="#dcdcdc" stroke-width="6.8"/>
<line x1="494.65" y1="273.15" x2="539.8" y2="273.15" stroke="#dcdcdc" stroke-width="6.8"/>
<line x1="494.65" y1="309.20" x2="539.8" y2="309.20" stroke="#dcdcdc" stroke-width="6.8"/>
<line x1="494.65" y1="345.25" x2="539.8" y2="345.25" stroke="#dcdcdc" stroke-width="6.8"/>
<line x1="494.65" y1="381.30" x2="539.8" y2="381.30" stroke="#dcdcdc" stroke-width="6.8"/>
<line x1="494.65" y1="417.35" x2="539.8" y2="417.35" stroke="#dcdcdc" stroke-width="6.8"/>
<line x1="494.65" y1="453.40" x2="539.8" y2="453.40" stroke="#dcdcdc" stroke-width="6.8"/>
<line x1="494.65" y1="489.45" x2="539.8" y2="489.45" stroke="#dcdcdc" stroke-width="6.8"/>
<line x1="494.65" y1="525.50" x2="539.8" y2="525.50" stroke="#dcdcdc" stroke-width="6.8"/>
<line x1="494.65" y1="561.55" x2="539.8" y2="561.55" stroke="#dcdcdc" stroke-width="6.8"/>
<line x1="494.65" y1="597.60" x2="539.8" y2="597.60" stroke="#dcdcdc" stroke-width="6.8"/>
<line x1="494.65" y1="633.65" x2="539.8" y2="633.65" stroke="#dcdcdc" stroke-width="6.8"/>
<line x1="494.65" y1="669.70" x2="539.8" y2="669.70" stroke="#dcdcdc" stroke-width="6.8"/>
<line x1="494.65" y1="705.75" x2="539.8" y2="705.75" stroke="#dcdcdc" stroke-width="6.8"/>
<line x1="494.65" y1="741.80" x2="539.8" y2="741.80" stroke="#dcdcdc" stroke-width="6.8"/>
<line x1="494.65" y1="777.85" x2="539.8" y2="777.85" stroke="#dcdcdc" stroke-width="6.8"/>
<line x1="494.65" y1="813.90" x2="539.8" y2="813.90" stroke="#dcdcdc" stroke-width="6.8"/>
<line x1="516.1" y1="167.3" x2="516.1" y2="836" stroke="#dcdcdc" stroke-width="7.6" stroke-dasharray="22 8.6" stroke-dashoffset="4.80"/>
<polygon points="504.6,830 527.6,830 516.1,851" fill="#dcdcdc"/>
<rect x="496.29" y="165.65" width="41.84" height="685.75" fill="none" stroke="#000" stroke-width="3.3"/>
<line x1="494.65" y1="201.05" x2="539.8" y2="201.05" stroke="#000" stroke-width="3.2"/>
<line x1="494.65" y1="237.10" x2="539.8" y2="237.10" stroke="#000" stroke-width="3.2"/>
<line x1="494.65" y1="273.15" x2="539.8" y2="273.15" stroke="#000" stroke-width="3.2"/>
<line x1="494.65" y1="309.20" x2="539.8" y2="309.20" stroke="#000" stroke-width="3.2"/>
<line x1="494.65" y1="345.25" x2="539.8" y2="345.25" stroke="#000" stroke-width="3.2"/>
<line x1="494.65" y1="381.30" x2="539.8" y2="381.30" stroke="#000" stroke-width="3.2"/>
<line x1="494.65" y1="417.35" x2="539.8" y2="417.35" stroke="#000" stroke-width="3.2"/>
<line x1="494.65" y1="453.40" x2="539.8" y2="453.40" stroke="#000" stroke-width="3.2"/>
<line x1="494.65" y1="489.45" x2="539.8" y2="489.45" stroke="#000" stroke-width="3.2"/>
<line x1="494.65" y1="525.50" x2="539.8" y2="525.50" stroke="#000" stroke-width="3.2"/>
<line x1="494.65" y1="561.55" x2="539.8" y2="561.55" stroke="#000" stroke-width="3.2"/>
<line x1="494.65" y1="597.60" x2="539.8" y2="597.60" stroke="#000" stroke-width="3.2"/>
<line x1="494.65" y1="633.65" x2="539.8" y2="633.65" stroke="#000" stroke-width="3.2"/>
<line x1="494.65" y1="669.70" x2="539.8" y2="669.70" stroke="#000" stroke-width="3.2"/>
<line x1="494.65" y1="705.75" x2="539.8" y2="705.75" stroke="#000" stroke-width="3.2"/>
<line x1="494.65" y1="741.80" x2="539.8" y2="741.80" stroke="#000" stroke-width="3.2"/>
<line x1="494.65" y1="777.85" x2="539.8" y2="777.85" stroke="#000" stroke-width="3.2"/>
<line x1="494.65" y1="813.90" x2="539.8" y2="813.90" stroke="#000" stroke-width="3.2"/>
<line x1="496.29" y1="849.9" x2="496.29" y2="888.2" stroke="#000" stroke-width="3.3"/>
<line x1="538.15" y1="849.9" x2="538.15" y2="888.2" stroke="#000" stroke-width="3.3"/>
<line x1="430.3" y1="183.0" x2="442.7" y2="183.0" stroke="#000" stroke-width="3.7"/>
<line x1="451.1" y1="183.0" x2="466.75" y2="183.0" stroke="#000" stroke-width="3.7"/>
<line x1="473.75" y1="183.0" x2="486.65" y2="183.0" stroke="#000" stroke-width="3.7"/>
<polygon points="477.65,174.0 494.65,183.0 477.65,192.0" fill="#000"/>
<line x1="430.3" y1="219.1" x2="442.7" y2="219.1" stroke="#000" stroke-width="3.7"/>
<line x1="451.1" y1="219.1" x2="466.75" y2="219.1" stroke="#000" stroke-width="3.7"/>
<line x1="473.75" y1="219.1" x2="486.65" y2="219.1" stroke="#000" stroke-width="3.7"/>
<polygon points="477.65,210.12 494.65,219.12 477.65,228.12" fill="#000"/>
<line x1="430.3" y1="255.2" x2="442.7" y2="255.2" stroke="#000" stroke-width="3.7"/>
<line x1="451.1" y1="255.2" x2="466.75" y2="255.2" stroke="#000" stroke-width="3.7"/>
<line x1="473.75" y1="255.2" x2="486.65" y2="255.2" stroke="#000" stroke-width="3.7"/>
<polygon points="477.65,246.24 494.65,255.24 477.65,264.24" fill="#000"/>
<line x1="430.3" y1="291.4" x2="442.7" y2="291.4" stroke="#000" stroke-width="3.7"/>
<line x1="451.1" y1="291.4" x2="466.75" y2="291.4" stroke="#000" stroke-width="3.7"/>
<line x1="473.75" y1="291.4" x2="486.65" y2="291.4" stroke="#000" stroke-width="3.7"/>
<polygon points="477.65,282.36 494.65,291.36 477.65,300.36" fill="#000"/>
<line x1="430.3" y1="327.5" x2="442.7" y2="327.5" stroke="#000" stroke-width="3.7"/>
<line x1="451.1" y1="327.5" x2="466.75" y2="327.5" stroke="#000" stroke-width="3.7"/>
<line x1="473.75" y1="327.5" x2="486.65" y2="327.5" stroke="#000" stroke-width="3.7"/>
<polygon points="477.65,318.48 494.65,327.48 477.65,336.48" fill="#000"/>
<line x1="430.3" y1="363.6" x2="442.7" y2="363.6" stroke="#000" stroke-width="3.7"/>
<line x1="451.1" y1="363.6" x2="466.75" y2="363.6" stroke="#000" stroke-width="3.7"/>
<line x1="473.75" y1="363.6" x2="486.65" y2="363.6" stroke="#000" stroke-width="3.7"/>
<polygon points="477.65,354.6 494.65,363.6 477.65,372.6" fill="#000"/>
<line x1="430.3" y1="399.7" x2="442.7" y2="399.7" stroke="#000" stroke-width="3.7"/>
<line x1="451.1" y1="399.7" x2="466.75" y2="399.7" stroke="#000" stroke-width="3.7"/>
<line x1="473.75" y1="399.7" x2="486.65" y2="399.7" stroke="#000" stroke-width="3.7"/>
<polygon points="477.65,390.71 494.65,399.71 477.65,408.71" fill="#000"/>
<line x1="430.3" y1="435.8" x2="442.7" y2="435.8" stroke="#000" stroke-width="3.7"/>
<line x1="451.1" y1="435.8" x2="466.75" y2="435.8" stroke="#000" stroke-width="3.7"/>
<line x1="473.75" y1="435.8" x2="486.65" y2="435.8" stroke="#000" stroke-width="3.7"/>
<polygon points="477.65,426.84 494.65,435.84 477.65,444.84" fill="#000"/>
<line x1="430.3" y1="472.0" x2="442.7" y2="472.0" stroke="#000" stroke-width="3.7"/>
<line x1="451.1" y1="472.0" x2="466.75" y2="472.0" stroke="#000" stroke-width="3.7"/>
<line x1="473.75" y1="472.0" x2="486.65" y2="472.0" stroke="#000" stroke-width="3.7"/>
<polygon points="477.65,462.96 494.65,471.96 477.65,480.96" fill="#000"/>
<line x1="430.3" y1="508.1" x2="442.7" y2="508.1" stroke="#000" stroke-width="3.7"/>
<line x1="451.1" y1="508.1" x2="466.75" y2="508.1" stroke="#000" stroke-width="3.7"/>
<line x1="473.75" y1="508.1" x2="486.65" y2="508.1" stroke="#000" stroke-width="3.7"/>
<polygon points="477.65,499.08 494.65,508.08 477.65,517.07" fill="#000"/>
<line x1="516.1" y1="164.5" x2="516.1" y2="834" stroke="#000" stroke-width="4" stroke-dasharray="18 12.6"/>
<polygon points="507.1,832 525.1,832 516.1,849" fill="#000"/>
<line x1="131.2" y1="869.2" x2="702" y2="870.8" stroke="#000" stroke-width="4" stroke-dasharray="17.5 13.1"/>
<polygon points="702.3,862.8 720.3,870.8 702.3,878.8" fill="#000"/>
<line x1="265" y1="35.2" x2="85.9" y2="148.0" stroke="#000" stroke-width="2.8"/>
<polygon points="73.2,156 83.1,139.7 92.1,154.1" fill="#000"/>
<line x1="265" y1="35.2" x2="202.7" y2="143.0" stroke="#000" stroke-width="2.8"/>
<polygon points="195.2,156 196.3,137.0 211.1,145.5" fill="#000"/>
<line x1="265" y1="35.2" x2="311.6" y2="142.2" stroke="#000" stroke-width="2.8"/>
<polygon points="317.6,156 303.0,143.8 318.6,137.0" fill="#000"/>
<line x1="265" y1="35.2" x2="427.6" y2="147.0" stroke="#000" stroke-width="2.8"/>
<polygon points="440,155.5 421.2,152.9 430.8,138.9" fill="#000"/>
<line x1="561" y1="365.5" x2="686.5" y2="365.5" stroke="#000" stroke-width="2.8"/>
<polygon points="546.2,365.5 563.2,356.2 563.2,374.8" fill="#000"/>
<line x1="639" y1="718.5" x2="740" y2="718.5" stroke="#000" stroke-width="2.8"/>
<polygon points="624,718.5 641.3,709.2 641.3,727.6" fill="#000"/>
<line x1="484.1" y1="965.8" x2="525.9" y2="905.8" stroke="#000" stroke-width="2.8"/>
<polygon points="534.5,893.5 531.8,912.3 517.8,902.6" fill="#000"/>
<text x="8" y="24" font-size="33" textLength="845" lengthAdjust="spacing">Exposed Pixel columns of the Photosensitive Imaging Array</text>
<text x="705.2" y="353.4" font-size="34.5" textLength="238.8" lengthAdjust="spacing">Vertical Transfer</text>
<text x="703.6" y="394.4" font-size="34.5" textLength="128.8" lengthAdjust="spacing">Registers</text>
<text x="765.5" y="704.3" font-size="34.5" textLength="235.5" lengthAdjust="spacing">Chrome masked,</text>
<text x="765.5" y="745.4" font-size="34.5" textLength="175.5" lengthAdjust="spacing">storage area.</text>
<text x="765.8" y="880.4" font-size="34.5" textLength="193.2" lengthAdjust="spacing">Signal Output</text>
<text x="124.5" y="988" font-size="34.5" textLength="352.5" lengthAdjust="spacing">Horizontal Shift Register</text>
</svg></div></body></html>
